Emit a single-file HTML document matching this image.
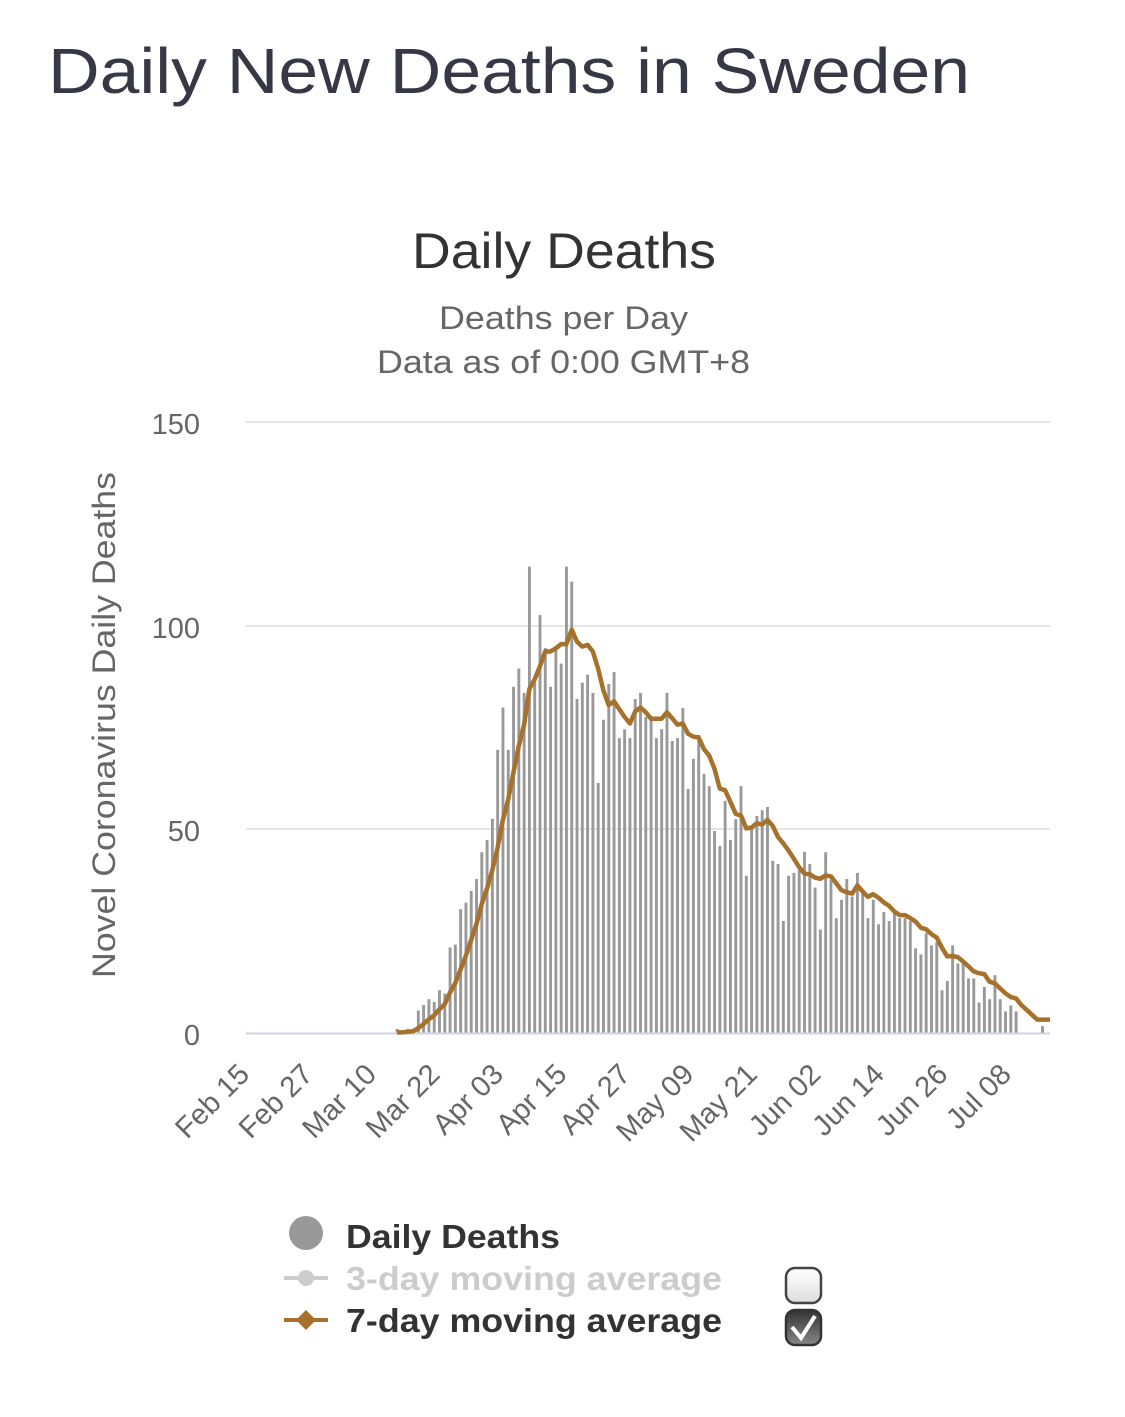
<!DOCTYPE html>
<html><head><meta charset="utf-8"><style>
html,body{margin:0;padding:0;background:#fff;width:1125px;height:1417px;overflow:hidden}
svg{display:block}
</style></head><body>
<svg id="s" width="1125" height="1417" xmlns="http://www.w3.org/2000/svg" font-family="Liberation Sans, Arial, sans-serif">
<text x="48" y="93" font-size="64" fill="#363945" textLength="922" lengthAdjust="spacingAndGlyphs">Daily New Deaths in Sweden</text>
<text x="412" y="268" font-size="50" fill="#333" textLength="304" lengthAdjust="spacingAndGlyphs">Daily Deaths</text>
<text x="439" y="329" font-size="32" fill="#666" textLength="249" lengthAdjust="spacingAndGlyphs">Deaths per Day</text>
<text x="377" y="373" font-size="32" fill="#666" textLength="373" lengthAdjust="spacingAndGlyphs">Data as of 0:00 GMT+8</text>
<g stroke="#e6e6e6" stroke-width="2"><line x1="246" y1="422" x2="1050" y2="422"/><line x1="246" y1="626" x2="1050" y2="626"/><line x1="246" y1="829" x2="1050" y2="829"/></g>
<g font-size="29" fill="#666" text-anchor="end"><text x="200" y="434">150</text><text x="200" y="638">100</text><text x="200" y="841">50</text><text x="200" y="1045">0</text></g>
<text transform="translate(115,725) rotate(-90)" font-size="32" fill="#666" text-anchor="middle" textLength="506" lengthAdjust="spacingAndGlyphs">Novel Coronavirus Daily Deaths</text>
<g id="bars" fill="#999"></g>
<line x1="246" y1="1033.5" x2="1050" y2="1033.5" stroke="#ccd6eb" stroke-width="2"/>
<polyline id="ln" fill="none" stroke="#a6712a" stroke-width="4.5" stroke-linejoin="round"/>
<g id="xl" font-size="29" fill="#666" text-anchor="end"></g>
<circle cx="306" cy="1233" r="17" fill="#999"/>
<text x="346" y="1248" font-size="33" font-weight="bold" fill="#333" textLength="214" lengthAdjust="spacingAndGlyphs">Daily Deaths</text>
<line x1="284" y1="1278" x2="328" y2="1278" stroke="#ccc" stroke-width="4"/><circle cx="306" cy="1278" r="8" fill="#ccc"/>
<text x="346" y="1290" font-size="33" font-weight="bold" fill="#ccc" textLength="376" lengthAdjust="spacingAndGlyphs">3-day moving average</text>
<line x1="284" y1="1320" x2="328" y2="1320" stroke="#a6712a" stroke-width="4"/><path d="M306 1310 L316 1320 L306 1330 L296 1320Z" fill="#a6712a"/>
<text x="346" y="1332" font-size="33" font-weight="bold" fill="#333" textLength="376" lengthAdjust="spacingAndGlyphs">7-day moving average</text>
<defs><linearGradient id="g1" x1="0" y1="0" x2="0" y2="1"><stop offset="0" stop-color="#fff"/><stop offset="1" stop-color="#ddd"/></linearGradient>
<linearGradient id="g2" x1="0" y1="0" x2="0" y2="1"><stop offset="0" stop-color="#333"/><stop offset="1" stop-color="#888"/></linearGradient></defs>
<rect x="786" y="1268" width="35" height="35" rx="9" fill="url(#g1)" stroke="#444" stroke-width="2.5"/>
<rect x="786" y="1310" width="35" height="35" rx="9" fill="url(#g2)" stroke="#333" stroke-width="2.5"/>
<path d="M792 1327 L801 1338 L815 1316" fill="none" stroke="#fff" stroke-width="4"/>
</svg>
<script>
var d=[];for(var i=0;i<28;i++)d.push(0);
d=d.concat([1,0,1,1]);
d=d.concat([5.5,6.9,8.3,7.6,10.5,9.7,21,21.7,30.4,32,34.9,37.8,44.4,47.4,52.6,69.5,79.9,69.5,85,89.5,83.5,114.5]);
d=d.concat([86,102.6,94.5,85,95,90.7,114.5,110.8,82,86,88,83.5,61.4]);
d=d.concat([76.9,85.7,88.6,72.4,74.6,72.4,82,83.5,77.6,77.6,72.4,74.6,83.5,71.7,72.4,79.8,59.9,67.3,73.2,63.6,60.6,49.6,45.9,57,47.4,52.5,60.6,38.6,51,53.3,54.7,55.5,42.3,41.5,27.5,38.6,39.3,40,44.5,41.5]);
d=d.concat([35.7,25.4,44.4,37.6,28.2,32.7,37.8,33.5,39.3,34.3,28.2,32.7,26.7,29.7,27.5,29.7,28.2,28.2,27.5,20.8,19.3,24.5,21.5,22.3,10.5,12.8,21.5,17.1,17.1,13.4,13.4,7.5,11.3,8.3,14.2,8.3,5.3,6.8,5.3]);
d=d.concat([0,0,0,0,1.7]);
var X=function(i){return 249+i*5.29},Y=function(v){return 1033-v*4.073};
var b='',pts=[];
for(var i=0;i<d.length;i++){if(d[i]>0)b+='<rect x="'+(X(i)-1.4).toFixed(2)+'" y="'+Y(d[i]).toFixed(1)+'" width="2.9" height="'+(d[i]*4.073).toFixed(1)+'"/>';
if(i>=28&&i<=147){var s=0;for(var j=i-6;j<=i;j++){s+=d[j];}pts.push(X(i).toFixed(1)+','+Y(s/7).toFixed(1));}}
pts.push(X(149).toFixed(1)+','+Y(3.3).toFixed(1));
pts.push('1050,'+Y(3.3).toFixed(1));
document.getElementById('bars').innerHTML=b;
document.getElementById('ln').setAttribute('points',pts.join(' '));
var L=['Feb 15','Feb 27','Mar 10','Mar 22','Apr 03','Apr 15','Apr 27','May 09','May 21','Jun 02','Jun 14','Jun 26','Jul 08'],t='';
for(var k=0;k<L.length;k++){var x=X(k*12)+2;t+='<text transform="translate('+x+',1076) rotate(-45)">'+L[k]+'</text>';}
document.getElementById('xl').innerHTML=t;
</script>
</body></html>
